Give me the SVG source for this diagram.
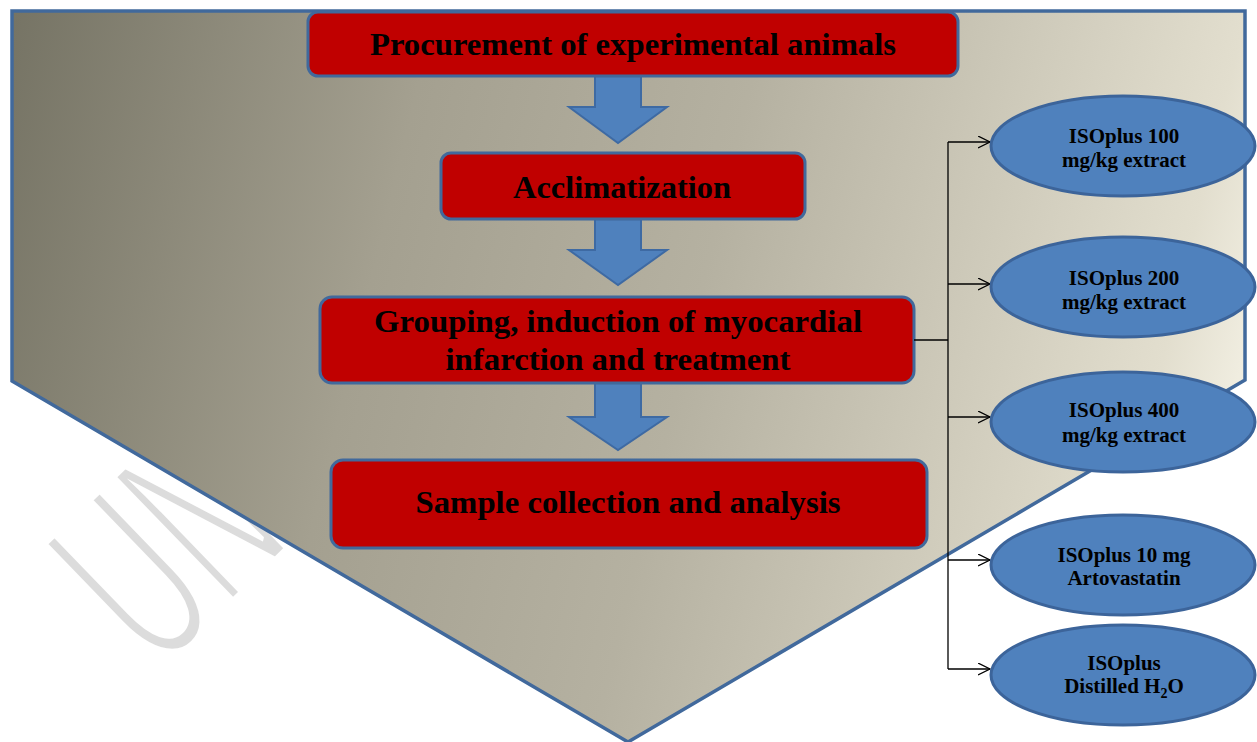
<svg xmlns="http://www.w3.org/2000/svg" width="1257" height="742" viewBox="0 0 1257 742">
<defs>
<linearGradient id="bg" gradientUnits="userSpaceOnUse" x1="0" y1="0" x2="1257" y2="300">
<stop offset="0" stop-color="#747263"/>
<stop offset="0.33" stop-color="#a4a090"/>
<stop offset="0.58" stop-color="#b5b1a1"/>
<stop offset="0.72" stop-color="#c6c2b2"/>
<stop offset="0.94" stop-color="#e2dece"/>
<stop offset="1" stop-color="#f0ede0"/>
</linearGradient>
<marker id="open" markerUnits="userSpaceOnUse" markerWidth="14" markerHeight="14" refX="12" refY="6" orient="auto">
<path d="M0,0 L12,6 L0,12" fill="none" stroke="#000" stroke-width="1.3"/>
</marker>
<style>
.box{fill:#c00000;stroke:#41699c;stroke-width:3}
.arr{fill:#4f81bd;stroke:#3e6aa3;stroke-width:2}
.ell{fill:#4f81bd;stroke:#3c649a;stroke-width:3}
.bt{font-family:"Liberation Serif","Times New Roman",serif;font-weight:bold;font-size:32px;fill:#000;text-anchor:middle}
.et{font-family:"Liberation Serif","Times New Roman",serif;font-weight:bold;font-size:21px;fill:#000;text-anchor:middle}
.con{fill:none;stroke:#000;stroke-width:1.3}
.wm{font-family:"Liberation Sans",Arial,sans-serif;font-size:100px;fill:#dcdcdc;stroke:#fff;stroke-width:3}
</style>
</defs>
<rect width="1257" height="742" fill="#fff"/>
<text class="wm" transform="matrix(0.95 -0.92 1.758 1.819 158 675)" x="0" y="0">UN</text>
<path id="backdrop" d="M12,11 L1245,11 L1245,380 L628,742 L12,381 Z" fill="url(#bg)" stroke="#41699c" stroke-width="3.5"/>
<g id="arrows">
<path class="arr" d="M595,76 L641,76 L641,107 L667,107 L618,143 L569,107 L595,107 Z"/>
<path class="arr" d="M595,219 L641,219 L641,250 L667,250 L618,285 L569,250 L595,250 Z"/>
<path class="arr" d="M595,383 L641,383 L641,417 L667,417 L618,450 L569,417 L595,417 Z"/>
</g>
<g id="n1">
<rect class="box" x="308" y="12" width="650" height="64" rx="10"/>
<text class="bt" x="633" y="55" textLength="526" lengthAdjust="spacingAndGlyphs">Procurement of experimental animals</text>
</g>
<g id="n2">
<rect class="box" x="441" y="153" width="364" height="66" rx="10"/>
<text class="bt" x="622" y="198" textLength="218" lengthAdjust="spacingAndGlyphs">Acclimatization</text>
</g>
<g id="n3">
<rect class="box" x="320" y="297" width="594" height="86" rx="12"/>
<text class="bt" x="618" y="332" textLength="488" lengthAdjust="spacingAndGlyphs">Grouping, induction of myocardial</text>
<text class="bt" x="618" y="370" textLength="345" lengthAdjust="spacingAndGlyphs">infarction and treatment</text>
</g>
<g id="n4">
<rect class="box" x="331" y="460" width="596" height="88" rx="12"/>
<text class="bt" x="628" y="513" textLength="425" lengthAdjust="spacingAndGlyphs">Sample collection and analysis</text>
</g>
<g id="connectors">
<path class="con" d="M914,340 L948,340"/>
<path class="con" d="M948,142 L948,669"/>
<path class="con" d="M948,142 L990,142" marker-end="url(#open)"/>
<path class="con" d="M948,284 L990,284" marker-end="url(#open)"/>
<path class="con" d="M948,417 L990,417" marker-end="url(#open)"/>
<path class="con" d="M948,560 L990,560" marker-end="url(#open)"/>
<path class="con" d="M948,669 L990,669" marker-end="url(#open)"/>
</g>
<g id="e1">
<ellipse class="ell" cx="1123" cy="146" rx="132" ry="50"/>
<text class="et" x="1124" y="143">ISOplus 100</text>
<text class="et" x="1124" y="167">mg/kg extract</text>
</g>
<g id="e2">
<ellipse class="ell" cx="1123" cy="287" rx="132" ry="50"/>
<text class="et" x="1124" y="285">ISOplus 200</text>
<text class="et" x="1124" y="309">mg/kg extract</text>
</g>
<g id="e3">
<ellipse class="ell" cx="1123" cy="422" rx="132" ry="50"/>
<text class="et" x="1124" y="417">ISOplus 400</text>
<text class="et" x="1124" y="442">mg/kg extract</text>
</g>
<g id="e4">
<ellipse class="ell" cx="1123" cy="565" rx="132" ry="50"/>
<text class="et" x="1124" y="562">ISOplus 10 mg</text>
<text class="et" x="1124" y="585">Artovastatin</text>
</g>
<g id="e5">
<ellipse class="ell" cx="1123" cy="675" rx="132" ry="50"/>
<text class="et" x="1124" y="670">ISOplus</text>
<text class="et" x="1124" y="693">Distilled H<tspan font-size="14" dy="5">2</tspan><tspan dy="-5">O</tspan></text>
</g>
</svg>
